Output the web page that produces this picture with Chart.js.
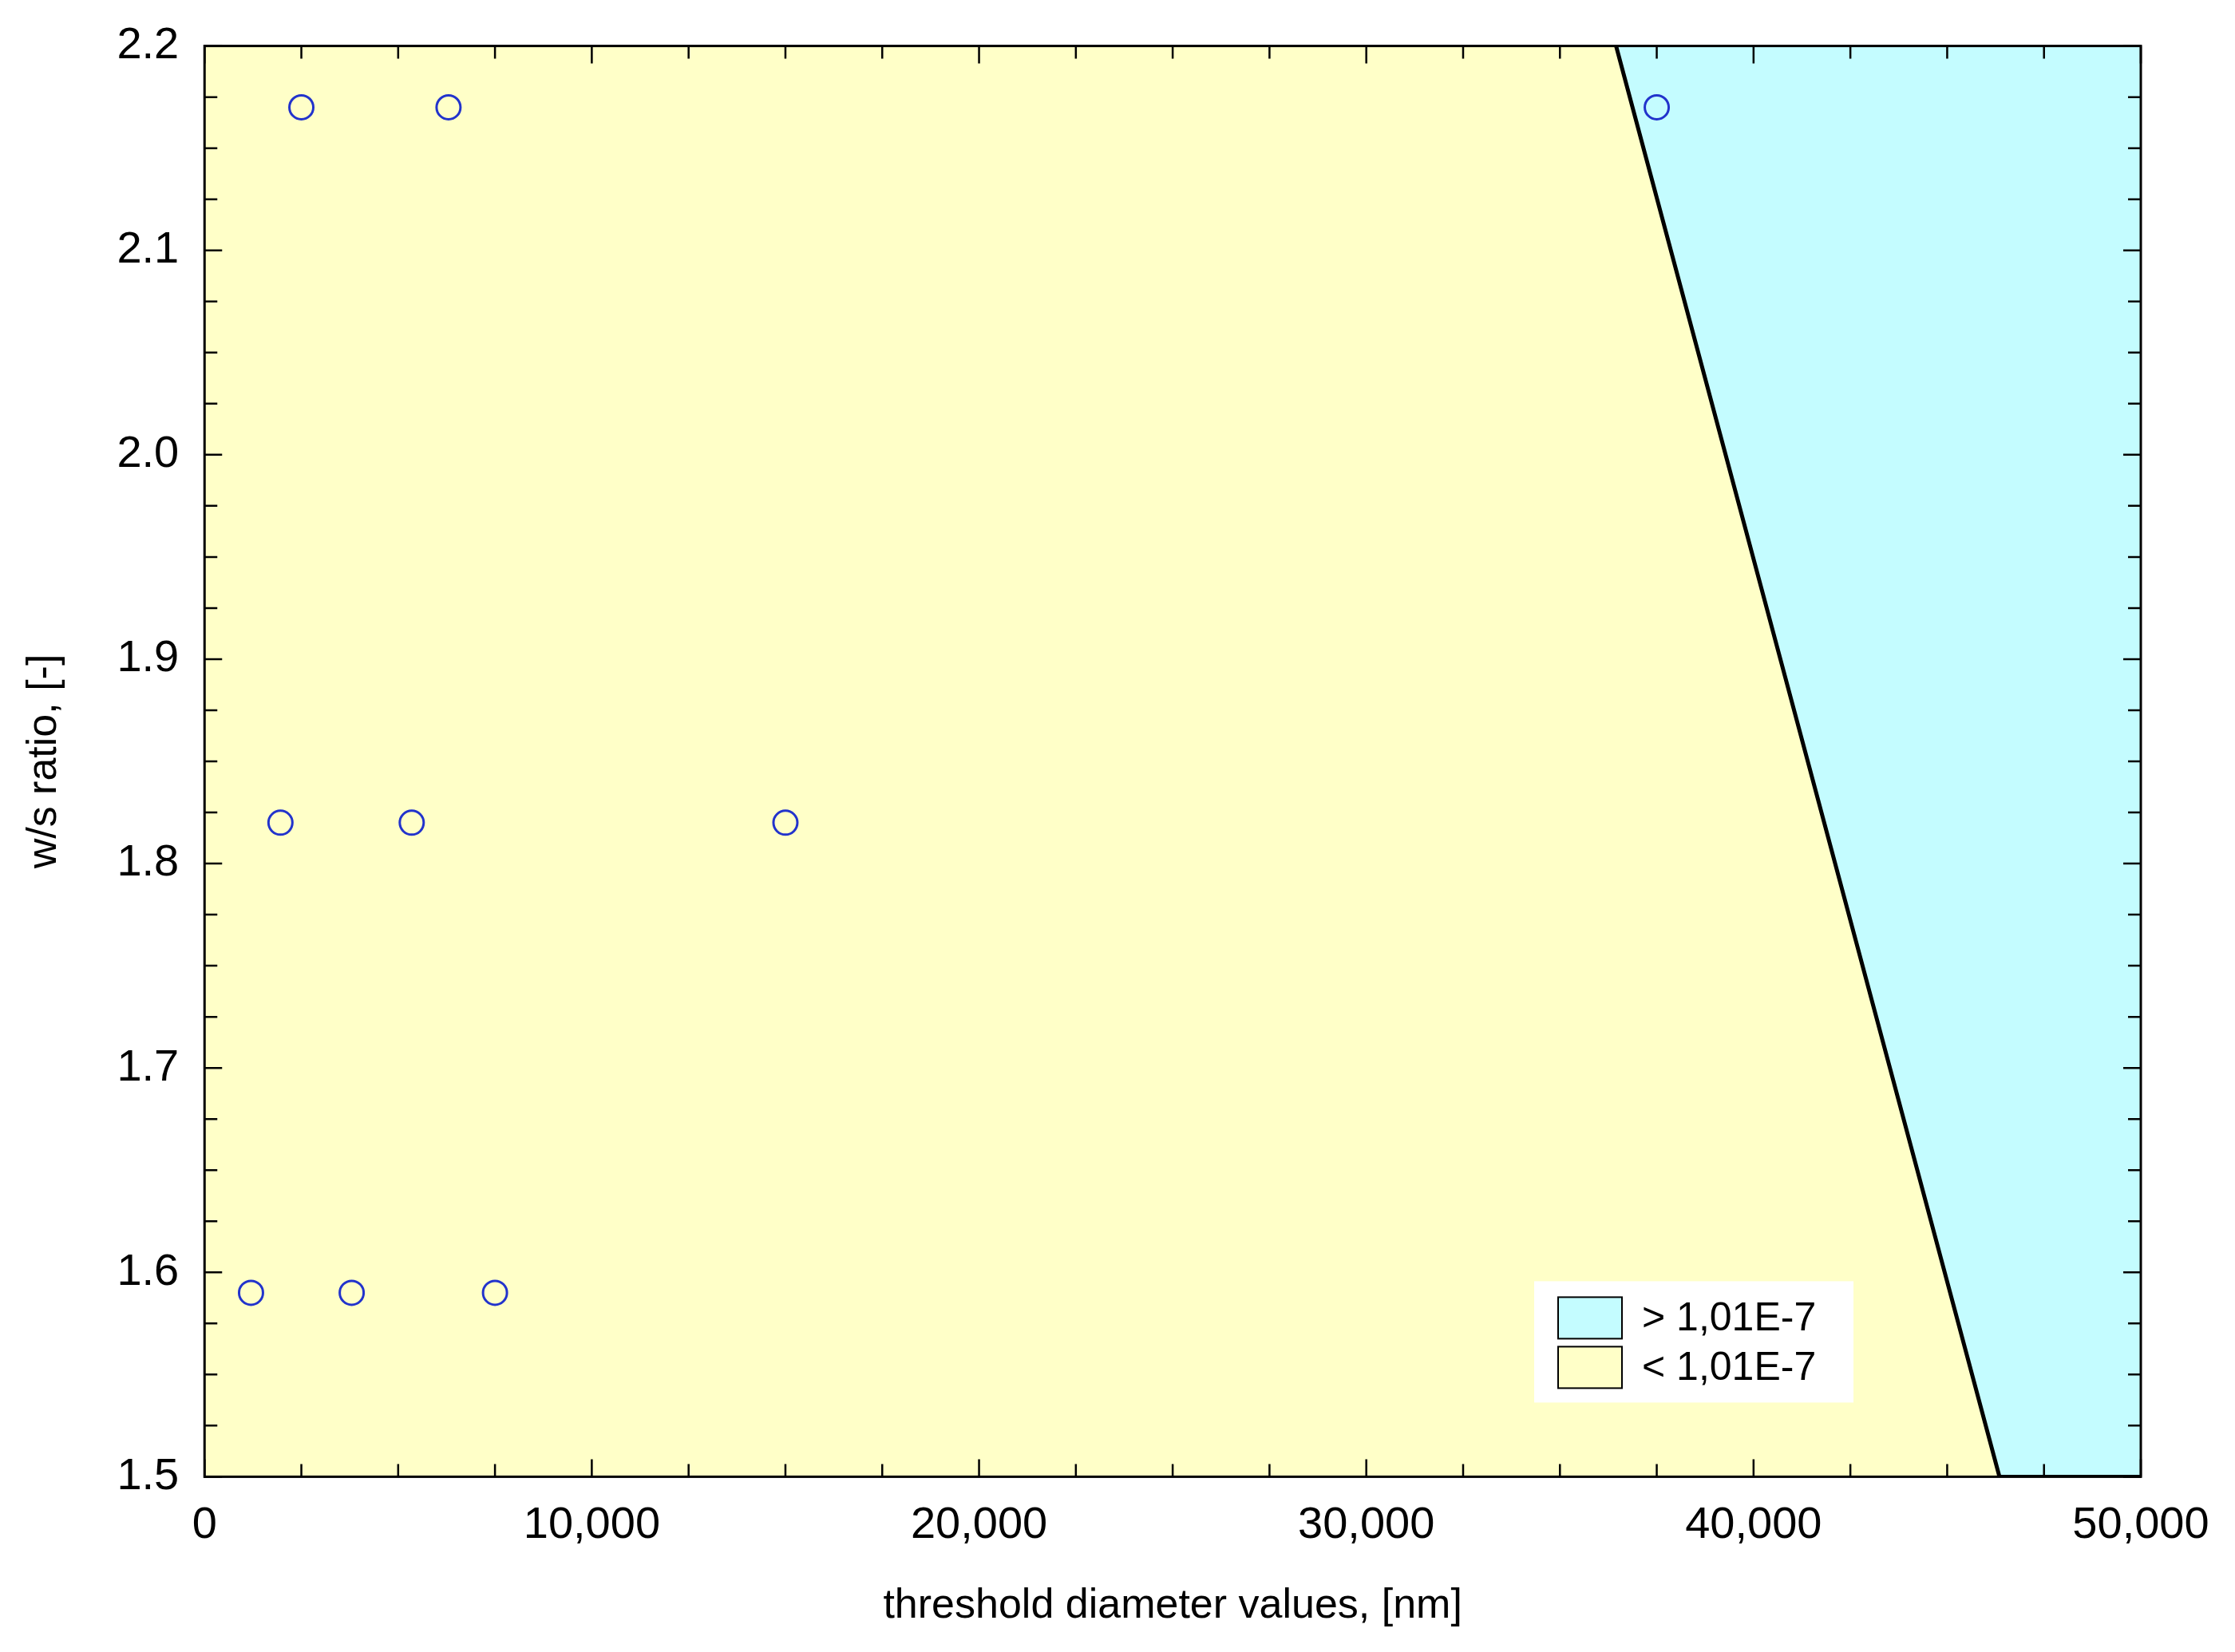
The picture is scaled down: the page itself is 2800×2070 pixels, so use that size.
<!DOCTYPE html>
<html><head><meta charset="utf-8">
<script src="https://cdn.jsdelivr.net/npm/chart.js@4"></script>
<style>html,body{margin:0;padding:0;background:#fff}#w{width:2800px;height:2070px}</style>
</head><body><div id="w"><canvas id="c"></canvas></div>
<script>
const pointsX = [2500, 6300, 37500, 1960, 5350, 15000, 1200, 3800, 7500];
const pointsY = [2.17, 2.17, 2.17, 1.82, 1.82, 1.82, 1.59, 1.59, 1.59];
const boundaryX = [36450, 46350, 50000];
const boundaryY = [2.2, 1.5, 1.5];
const legendLabels = ['> 1,01E-7', '< 1,01E-7'];
const legendColors = ['#C4FCFF', '#FFFFC8'];
const xTicks = [0, 10000, 20000, 30000, 40000, 50000];
const yTicks = [1.5, 1.6, 1.7, 1.8, 1.9, 2.0, 2.1, 2.2];

const font = {family: 'Liberation Sans, Arial, sans-serif', size: 56};
const bgPlugin = {
  id: 'bg',
  beforeDraw(ch) {
    const {ctx, chartArea: a} = ch;
    ctx.save(); ctx.fillStyle = '#FFFFC8';
    ctx.fillRect(a.left, a.top, a.right - a.left, a.bottom - a.top); ctx.restore();
  },
  afterDraw(ch) {
    const {ctx, chartArea: a, scales: {x, y}} = ch;
    ctx.save(); ctx.strokeStyle = '#000'; ctx.lineWidth = 3;
    ctx.strokeRect(a.left, a.top, a.right - a.left, a.bottom - a.top);
    ctx.lineWidth = 2.5;
    for (let v = 0; v <= 50000; v += 2500) {
      const p = x.getPixelForValue(v); const L = v % 10000 === 0 ? 22 : 16;
      ctx.beginPath(); ctx.moveTo(p, a.bottom); ctx.lineTo(p, a.bottom - L);
      ctx.moveTo(p, a.top); ctx.lineTo(p, a.top + L); ctx.stroke();
    }
    for (let i = 0; i <= 28; i++) {
      const v = 1.5 + i * 0.025; const p = y.getPixelForValue(v); const L = i % 4 === 0 ? 22 : 16;
      ctx.beginPath(); ctx.moveTo(a.left, p); ctx.lineTo(a.left + L, p);
      ctx.moveTo(a.right, p); ctx.lineTo(a.right - L, p); ctx.stroke();
    }
    // legend
    const lx = a.right - 730, ly = a.bottom - 225, bw = 80, bh = 52;
    ctx.fillStyle = '#fff'; ctx.fillRect(lx - 30, ly - 20, 400, 152);
    ctx.font = '50px Liberation Sans, Arial, sans-serif'; ctx.textBaseline = 'middle';
    legendLabels.forEach((t, i) => {
      const yy = ly + i * 62;
      ctx.fillStyle = legendColors[i]; ctx.fillRect(lx, yy, bw, bh);
      ctx.strokeStyle = '#000'; ctx.lineWidth = 2; ctx.strokeRect(lx, yy, bw, bh);
      ctx.fillStyle = '#000'; ctx.fillText(t, lx + bw + 25, yy + bh / 2 + 2);
    });
    ctx.restore();
  }
};

new Chart(document.getElementById('c'), {
  type: 'scatter',
  data: {datasets: [
    {type: 'line', data: boundaryX.map((v, i) => ({x: v, y: boundaryY[i]})),
     borderColor: '#000', borderWidth: 5, backgroundColor: '#C4FCFF', fill: 'end', pointRadius: 0, order: 2},
    {data: pointsX.map((v, i) => ({x: v, y: pointsY[i]})),
     pointRadius: 15, borderColor: '#2233CC', borderWidth: 3, backgroundColor: 'rgba(0,0,0,0)', order: 1}
  ]},
  plugins: [bgPlugin],
  options: {
    responsive: true, maintainAspectRatio: false, animation: false, devicePixelRatio: 1,
    layout: {padding: {left: 20, right: 118, top: 22, bottom: 22}},
    plugins: {legend: {display: false}, tooltip: {enabled: false}},
    scales: {
      x: {type: 'linear', min: 0, max: 50000,
        afterBuildTicks: s => { s.ticks = xTicks.map(v => ({value: v})); },
        ticks: {font, color: '#000', padding: 20, maxRotation: 0,
          callback: v => v.toLocaleString('en-US')},
        grid: {display: false}, border: {display: false},
        title: {display: true, text: 'threshold diameter values, [nm]', font: {family: font.family, size: 52}, color: '#000', padding: {top: 16}}},
      y: {type: 'linear', min: 1.5, max: 2.2,
        afterBuildTicks: s => { s.ticks = yTicks.map(v => ({value: v})); },
        ticks: {font, color: '#000', padding: 24, callback: v => v.toFixed(1)},
        grid: {display: false}, border: {display: false},
        title: {display: true, text: 'w/s ratio, [-]', font: {family: font.family, size: 52}, color: '#000', padding: {bottom: 36}}}
    }
  }
});
</script></body></html>
